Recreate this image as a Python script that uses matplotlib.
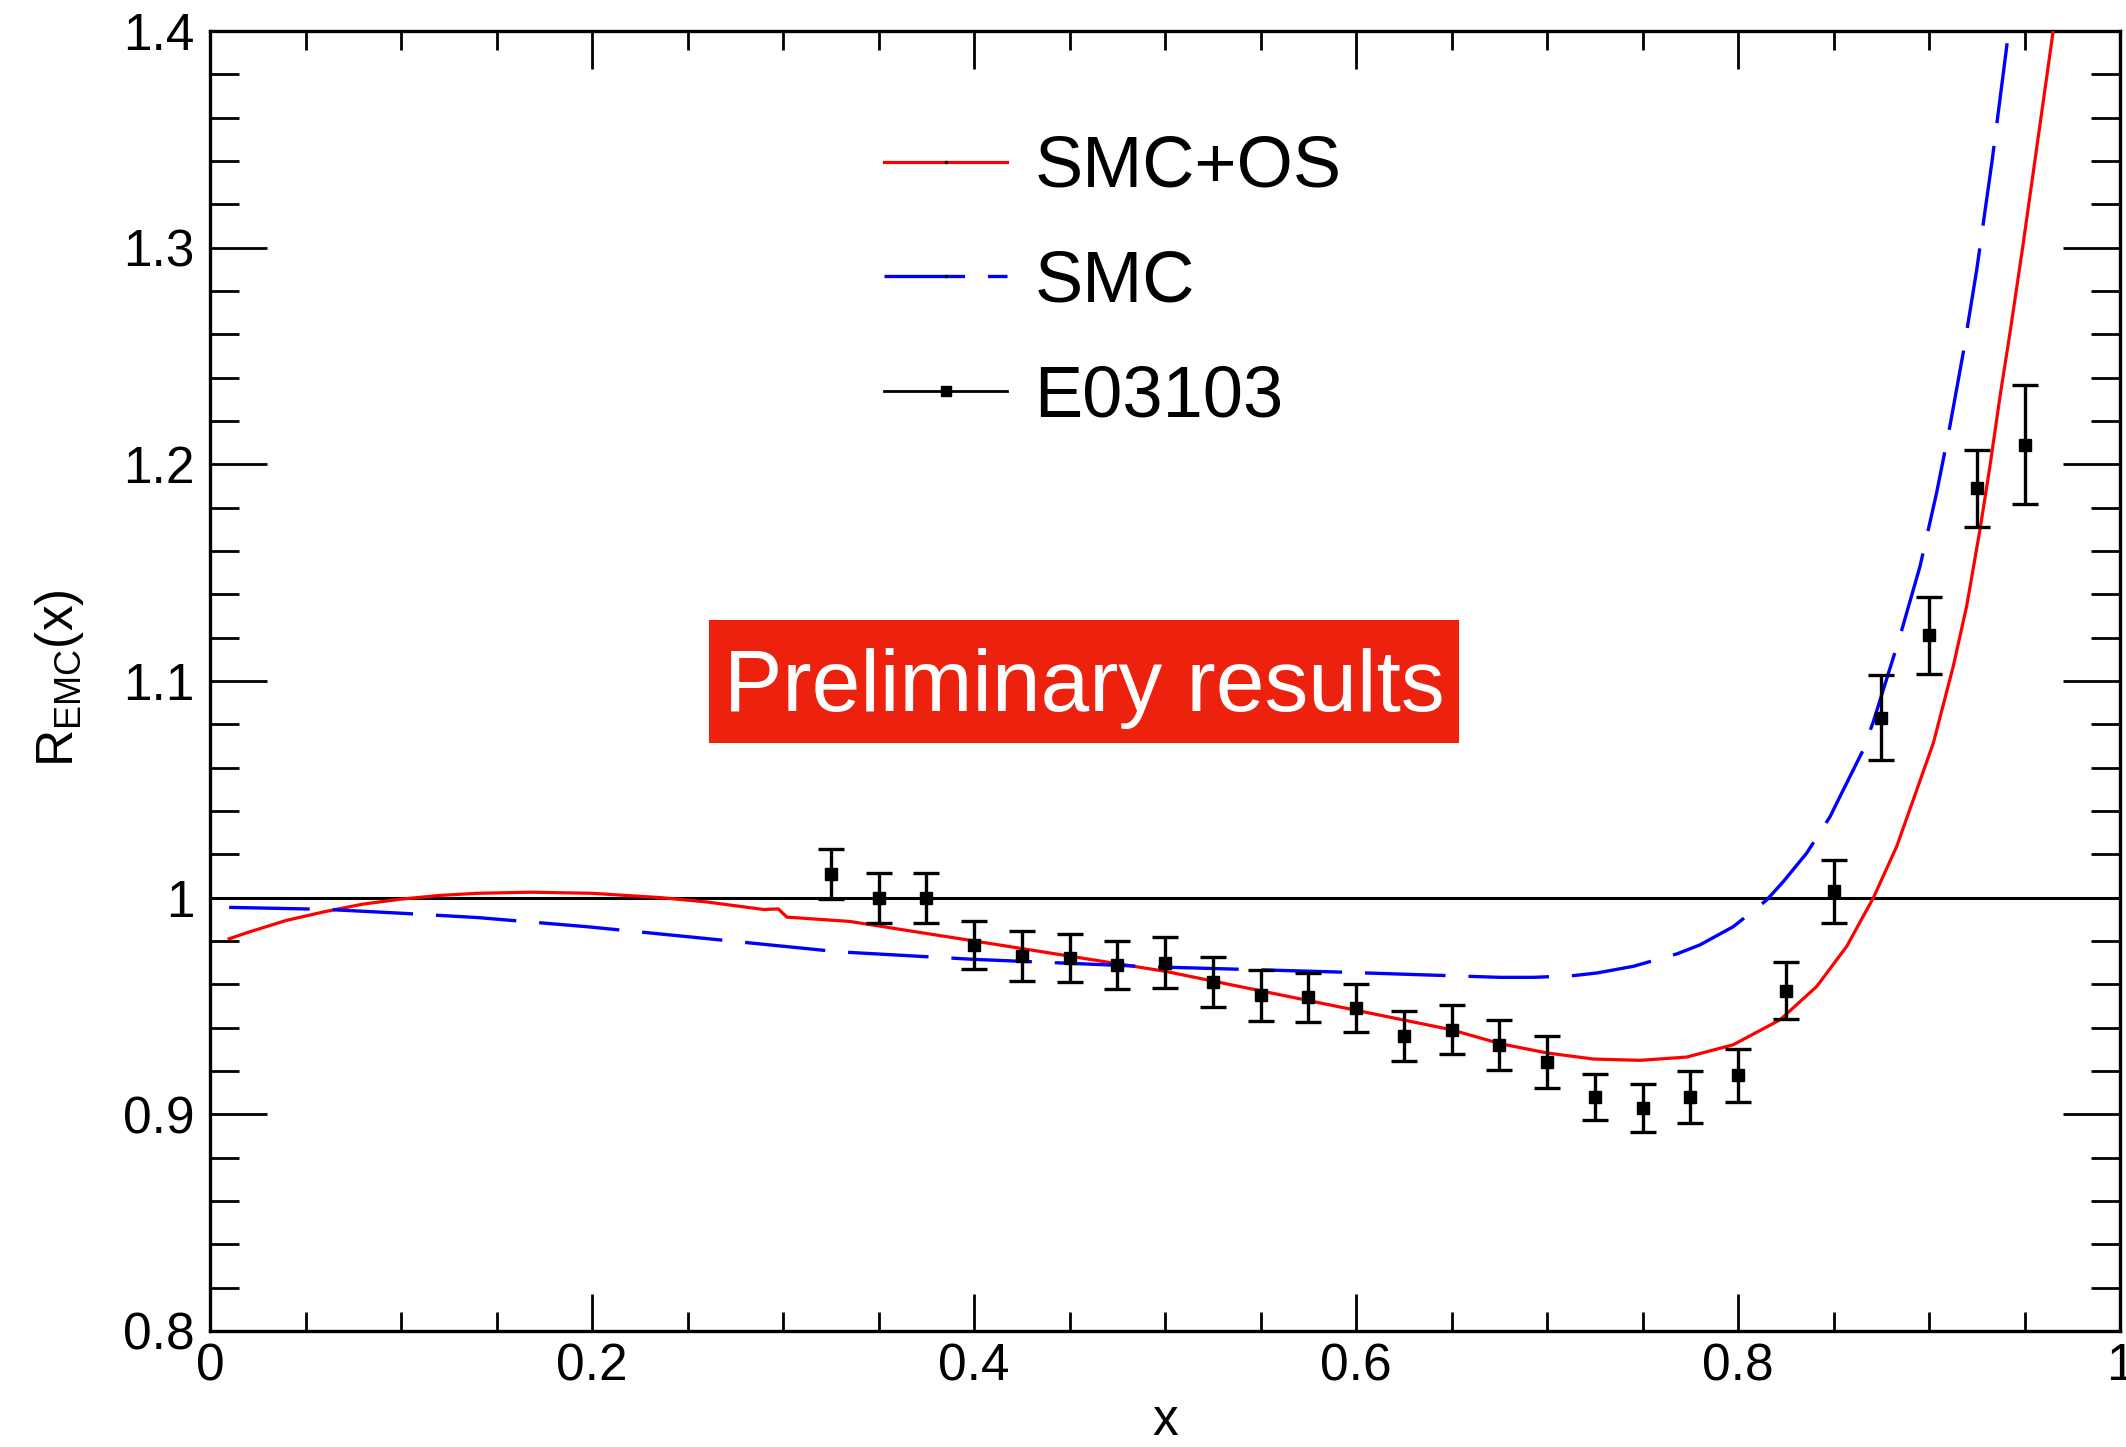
import matplotlib
matplotlib.use("Agg")
import matplotlib.pyplot as plt
from matplotlib.lines import Line2D
from matplotlib.patches import Rectangle
from matplotlib.ticker import MultipleLocator, FuncFormatter

plt.rcParams['font.family'] = ['Liberation Sans', 'DejaVu Sans']
plt.rcParams['mathtext.fontset'] = 'custom'
plt.rcParams['mathtext.rm'] = 'Liberation Sans'
plt.rcParams['lines.scale_dashes'] = False

# E03103 measured ratio
data_x = [0.325, 0.35, 0.375, 0.4, 0.425, 0.45, 0.475, 0.5, 0.525, 0.55, 0.575, 0.6, 0.625,
          0.65, 0.675, 0.7, 0.725, 0.75, 0.775, 0.8, 0.825, 0.85, 0.875, 0.9, 0.925, 0.95]
data_y = [1.011, 1.000, 1.000, 0.978, 0.973, 0.972, 0.969, 0.970, 0.961, 0.955, 0.954, 0.949, 0.936,
          0.939, 0.932, 0.924, 0.908, 0.903, 0.908, 0.918, 0.957, 1.003, 1.083, 1.121, 1.189, 1.209]
data_err = [0.0115, 0.0115, 0.0115, 0.011, 0.0115, 0.011, 0.011, 0.0118, 0.0115, 0.0118, 0.0112, 0.011, 0.0116,
            0.0113, 0.0115, 0.012, 0.0106, 0.011, 0.0118, 0.0123, 0.0132, 0.0145, 0.0197, 0.0176, 0.0178, 0.0274]

# SMC+OS calculation
smcos_x = [0.01, 0.02, 0.04, 0.06, 0.08, 0.10, 0.12, 0.14, 0.168, 0.20, 0.236, 0.26, 0.29, 0.2975,
           0.302, 0.335, 0.40, 0.45, 0.50, 0.55, 0.60, 0.65, 0.6754, 0.70, 0.7243, 0.7487, 0.7731,
           0.7975, 0.822, 0.8412, 0.8569, 0.8709, 0.8831, 0.8918, 0.9023, 0.9127, 0.9197, 0.9267,
           0.9319, 0.9372, 0.9424, 0.949, 0.957, 0.965]
smcos_y = [0.981, 0.984, 0.9895, 0.9935, 0.997, 0.9993, 1.001, 1.002, 1.0025, 1.002, 1.000, 0.998, 0.9945, 0.9948,
           0.991, 0.989, 0.980, 0.973, 0.966, 0.957, 0.948, 0.939, 0.9326, 0.9283, 0.9255, 0.9249, 0.9264,
           0.9321, 0.9436, 0.959, 0.9775, 1.000, 1.0237, 1.0453, 1.0715, 1.1068, 1.1346, 1.170,
           1.1992, 1.2316, 1.2608, 1.300, 1.350, 1.400]

# SMC calculation
smc_x = [0.01, 0.06, 0.10, 0.14, 0.197, 0.252, 0.329, 0.40, 0.496, 0.589, 0.6754, 0.6929, 0.7138,
         0.726, 0.7452, 0.7679, 0.7801, 0.7975, 0.815, 0.8237, 0.8359, 0.8482, 0.8534, 0.8656, 0.8709,
         0.8848, 0.8953, 0.904, 0.911, 0.918, 0.925, 0.933, 0.9417]
smc_y = [0.9955, 0.9946, 0.9928, 0.9908, 0.9866, 0.9818, 0.975, 0.9715, 0.968, 0.9657, 0.9632, 0.9632, 0.964,
         0.9652, 0.9683, 0.974, 0.9782, 0.9866, 0.9989, 1.0074, 1.0205, 1.0374, 1.0467, 1.0683, 1.0814,
         1.1207, 1.153, 1.187, 1.218, 1.252, 1.290, 1.340, 1.400]

fig = plt.figure(figsize=(21.26, 14.47), dpi=100)
ax = fig.add_axes([0.0988, 0.0802, 0.8984, 0.8984])

ax.axhline(1.0, color='black', lw=2.2, zorder=2)
ax.plot(smcos_x, smcos_y, color='red', lw=2.3, zorder=3)
ax.plot(smc_x, smc_y, color='blue', lw=2.4, dashes=(58, 16.5), zorder=3)
ax.errorbar(data_x, data_y, yerr=data_err, fmt='s', color='black', ms=8,
            elinewidth=2.4, capsize=9.4, capthick=2.4, zorder=4)

ax.set_xlim(0, 1)
ax.set_ylim(0.8, 1.4)

ax.xaxis.set_major_locator(MultipleLocator(0.2))
ax.xaxis.set_minor_locator(MultipleLocator(0.05))
ax.yaxis.set_major_locator(MultipleLocator(0.1))
ax.yaxis.set_minor_locator(MultipleLocator(0.02))
fmt = FuncFormatter(lambda v, p: f'{v:g}')
ax.xaxis.set_major_formatter(fmt)
ax.yaxis.set_major_formatter(fmt)

ax.tick_params(which='both', direction='in', top=True, right=True, width=2.0, labelsize=37)
ax.tick_params(axis='x', which='major', length=27, pad=8)
ax.tick_params(axis='x', which='minor', length=14)
ax.tick_params(axis='y', which='major', length=41, pad=11)
ax.tick_params(axis='y', which='minor', length=21)
for s in ax.spines.values():
    s.set_linewidth(2.4)

fig.text(1165 / 2126, 1 - 1435 / 1447, 'x', fontsize=37, ha='center', va='baseline')
fig.text(60 / 2126, 1 - 678 / 1447, r'R$_{\mathregular{EMC}}$(x)', fontsize=37,
         rotation=90, ha='center', va='center')

handles = [
    Line2D([], [], color='red', lw=2.3, marker='s', ms=2, mfc='black', mec='black'),
    Line2D([], [], color='blue', lw=2.4, dashes=(58, 16.5), marker='s', ms=2, mfc='black', mec='black'),
    Line2D([], [], color='black', lw=2.0, marker='s', ms=7.5),
]
ax.legend(handles, ['SMC+OS', 'SMC', 'E03103'], loc='upper left', bbox_to_anchor=(0.353, 0.92),
          frameon=False, fontsize=52, handlelength=1.7, handletextpad=0.38, labelspacing=0.66,
          borderpad=0, borderaxespad=0)

# banner
ax.add_patch(Rectangle((0.261, 0.452), 0.393, 0.095, transform=ax.transAxes,
                       facecolor='#ec220f', edgecolor='none', zorder=5))
ax.text(0.4575, 0.494, 'Preliminary results', transform=ax.transAxes, fontsize=63,
        color='white', ha='center', va='center', zorder=6)

fig.savefig('out.png', dpi=100)
